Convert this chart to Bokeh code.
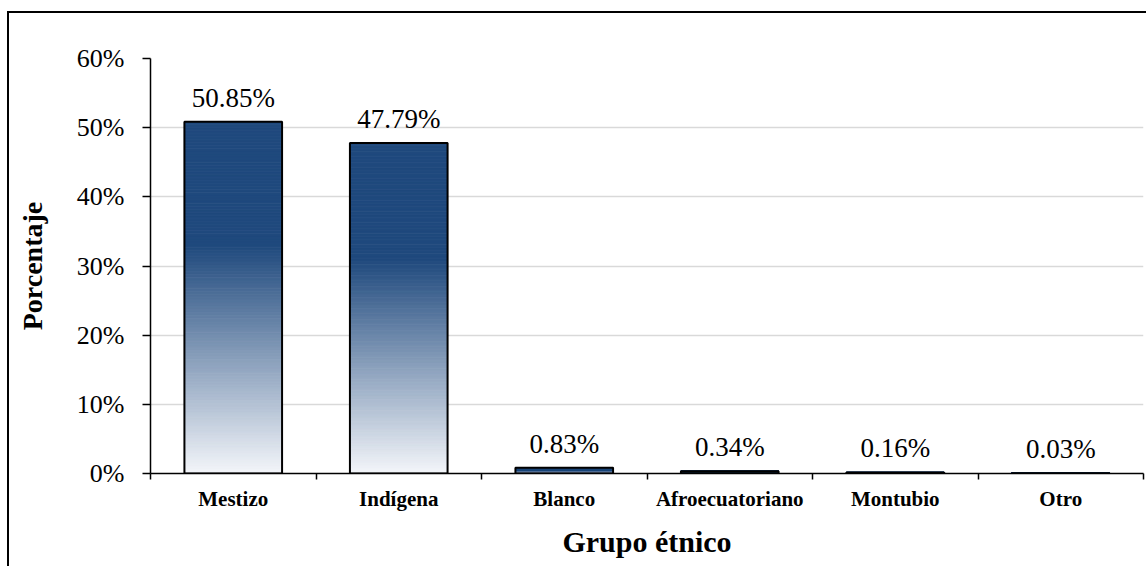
from bokeh.plotting import figure
from bokeh.models import FixedTicker, PrintfTickFormatter, ColumnDataSource, Range1d
from bokeh.core.properties import value
from bokeh.embed import file_html
from bokeh.resources import INLINE

# Distribución por grupo étnico (%)
categories = ["Mestizo", "Indígena", "Blanco", "Afroecuatoriano", "Montubio", "Otro"]
values = [50.85, 47.79, 0.83, 0.34, 0.16, 0.03]
labels = ["50.85%", "47.79%", "0.83%", "0.34%", "0.16%", "0.03%"]
y_ticks = [0, 10, 20, 30, 40, 50, 60]

SERIF = "Liberation Serif"
DARK = (31, 73, 125)
LIGHT = (244, 246, 250)
BAR_W = 0.59
SOLID_FRAC = 0.35   # upper part of each bar is solid colour
N_SLICES = 120

p = figure(
    width=1139, height=555,
    x_range=Range1d(0, len(categories)), y_range=Range1d(0, 60),
    output_backend="svg", toolbar_location=None,
    min_border_left=141, min_border_top=45, min_border_right=5, min_border_bottom=95,
)
p.margin = (11, 0, 0, 7)
p.styles = {"border-left": "2px solid #000000", "border-top": "2px solid #000000"}
p.outline_line_color = None
p.background_fill_color = "white"
p.border_fill_color = "white"

# gridlines
p.xgrid.grid_line_color = None
p.ygrid.grid_line_color = "#d9d9d9"
p.ygrid.grid_line_width = 1.5
p.ygrid.ticker = FixedTicker(ticks=y_ticks)

# gradient bars: stacked thin slices per bar
xs = [i + 0.5 for i in range(len(categories))]
sl = dict(left=[], right=[], bottom=[], top=[], color=[])
for x, v in zip(xs, values):
    for k in range(N_SLICES):
        b = v * k / N_SLICES
        t = v * (k + 1) / N_SLICES
        frac = (k + 0.5) / N_SLICES  # 0 at bottom, 1 at top
        u = min(1.0, frac / (1 - SOLID_FRAC))
        c = tuple(int(round(LIGHT[j] + (DARK[j] - LIGHT[j]) * u)) for j in range(3))
        sl["left"].append(x - BAR_W / 2)
        sl["right"].append(x + BAR_W / 2)
        sl["bottom"].append(b)
        sl["top"].append(t)
        sl["color"].append("#%02x%02x%02x" % c)
p.quad(source=ColumnDataSource(sl), left="left", right="right", bottom="bottom", top="top",
       fill_color="color", line_color="color", line_width=0.8)

# bar outlines
p.vbar(x=xs, top=values, width=BAR_W, bottom=0, fill_color=None,
       line_color="black", line_width=2)

# value labels
p.text(x=xs, y=values, text=labels, text_align="center", text_baseline="bottom",
       y_offset=-9, text_font=value(SERIF), text_font_size="27px", text_color="black")

# y axis
ya = p.yaxis[0]
ya.ticker = FixedTicker(ticks=y_ticks)
ya.formatter = PrintfTickFormatter(format="%d%%")
ya.axis_line_color = "black"
ya.axis_line_width = 1.5
ya.major_tick_line_color = "black"
ya.major_tick_line_width = 1.5
ya.major_tick_in = 0
ya.major_tick_out = 8
ya.minor_tick_line_color = None
ya.major_label_standoff = 18
ya.major_label_text_font = SERIF
ya.major_label_text_font_size = "26px"
ya.major_label_text_color = "black"
ya.axis_label = "Porcentaje"
ya.axis_label_text_font = SERIF
ya.axis_label_text_font_style = "bold"
ya.axis_label_text_font_size = "28px"
ya.axis_label_text_color = "black"
ya.axis_label_standoff = 26

# x axis: labels at bar centres, tick marks at category boundaries
xa = p.xaxis[0]
xa.ticker = FixedTicker(ticks=xs, minor_ticks=list(range(len(categories) + 1)))
xa.major_label_overrides = {x: c for x, c in zip(xs, categories)}
xa.axis_line_color = "black"
xa.axis_line_width = 1.5
xa.major_tick_line_color = None
xa.minor_tick_line_color = "black"
xa.minor_tick_line_width = 1.5
xa.minor_tick_in = 0
xa.minor_tick_out = 6
xa.major_label_standoff = 7
xa.major_label_text_font = SERIF
xa.major_label_text_font_style = "bold"
xa.major_label_text_font_size = "21px"
xa.major_label_text_color = "black"
xa.axis_label = "Grupo étnico"
xa.axis_label_text_font = SERIF
xa.axis_label_text_font_style = "bold"
xa.axis_label_text_font_size = "30px"
xa.axis_label_text_color = "black"
xa.axis_label_standoff = 11

html = file_html(p, INLINE)
open("out.html", "w").write(html)
